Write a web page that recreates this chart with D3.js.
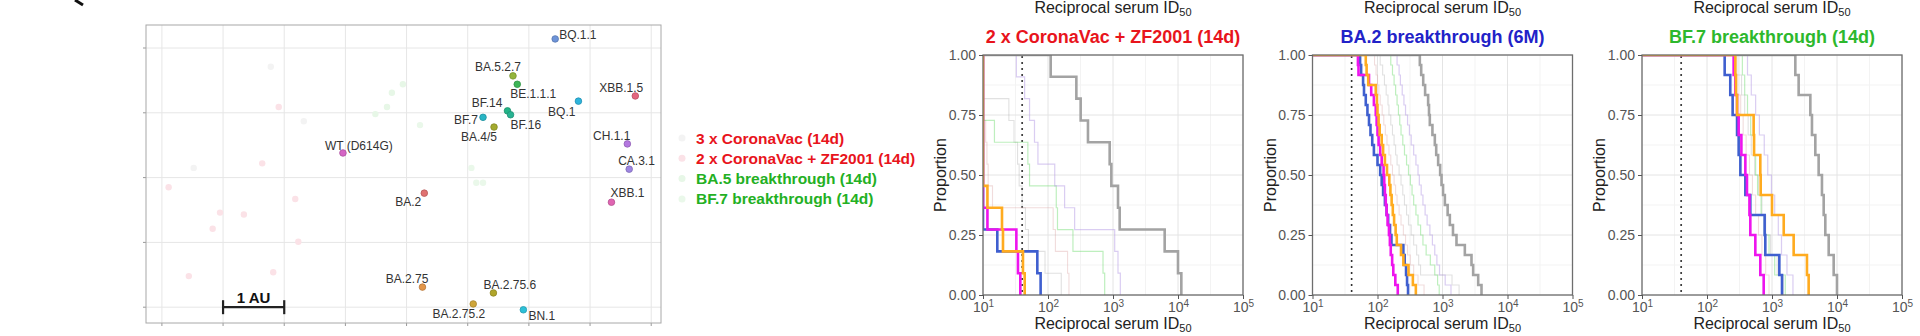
<!DOCTYPE html>
<html>
<head>
<meta charset="utf-8">
<script src="https://cdn.jsdelivr.net/npm/d3@7"></script>
<style>
body { margin: 0; background: #fff; }
text { font-family: Arial, 'Liberation Sans', sans-serif; }
</style>
</head>
<body>
<div id="chart"></div>
<script>
var variantNames = ['WT (D614G)', 'BA.2', 'BA.2.75', 'BA.2.75.2', 'BA.2.75.6', 'BN.1', 'BA.4/5', 'BF.7',
        'BF.14', 'BF.16', 'BA.5.2.7', 'BE.1.1.1', 'BQ.1', 'BQ.1.1', 'XBB.1', 'XBB.1.5', 'CH.1.1', 'CA.3.1'],
    variantX = [2.96, 4.29, 4.26, 5.09, 5.42, 5.91, 5.43, 5.25, 5.65, 5.70, 5.74, 5.81, 6.81, 6.43, 7.35, 7.74, 7.61, 7.64],
    variantY = [2.38, 1.76, 0.31, 0.05, 0.22, -0.04, 2.78, 2.93, 3.03, 2.97, 3.57, 3.44, 3.18, 4.14, 1.62, 3.26, 2.52, 2.13],
    variantColors = ['#d565c5', '#e07272', '#e3964a', '#cfa63a', '#b0a52a', '#2cc0d8', '#a3aa2e', '#28b5c4',
        '#22b487', '#27b392', '#93b53c', '#3db556', '#2db4dc', '#6d93d8', '#e065b2', '#e5667f', '#b477e0', '#9e86e2'];

var seraGroups = ['3 x CoronaVac (14d)', '2 x CoronaVac + ZF2001 (14d)', 'BA.5 breakthrough (14d)', 'BF.7 breakthrough (14d)'],
    seraGroup = [0, 0, 0, 1, 1, 1, 1, 1, 1, 1, 1, 1, 1, 2, 2, 2, 2, 3, 3, 3, 3],
    seraX = [1.78, 2.32, 0.52, 1.91, 1.64, 0.11, 2.18, 0.95, 1.34, 0.83, 2.23, 0.44, 1.82, 3.94, 3.76, 3.68, 3.49, 4.22, 5.06, 5.14, 5.25],
    seraY = [3.71, 2.87, 2.15, 3.09, 2.22, 1.85, 1.67, 1.46, 1.43, 1.21, 1.01, 0.48, 0.54, 3.44, 3.31, 3.09, 2.98, 2.81, 2.15, 1.92, 1.92],
    seraColors = ['#f3f3f3', '#fbe2e7', '#e7f7e7', '#eaf8ea'],
    legendColors = ['#e8141c', '#e8141c', '#23b023', '#23b023'];

var panelTitles = ['2 x CoronaVac + ZF2001 (14d)', 'BA.2 breakthrough (6M)', 'BF.7 breakthrough (14d)'],
    titleColors = ['#e8141c', '#2222c8', '#2db82d'],
    xTicks = [10, 100, 1000, 10000, 100000],
    yTicks = [0, 0.25, 0.5, 0.75, 1],
    detectionLimit = 40;

// reciprocal ID50 per serum
var p1Gray = [110, 273, 318, 412, 889, 943, 1194, 1267, 6237, 10000, 11250],
    p1Blue = [10, 10, 10, 10, 10, 10, 10, 10, 16.6, 68.5, 77],
    p1Magenta = [10, 10, 10, 10, 10, 10, 10, 11.7, 32.6, 34.5, 37.5],
    p1Orange = [10, 10, 10, 10, 10, 10, 11.7, 19.6, 20.3, 41.2, 43.8],
    p1Lavender = [32.6, 43.7, 52, 62, 70, 127, 180, 257, 1062, 1194, 1297],
    p1Green = [10, 10, 10, 15, 49, 52, 134, 140, 242, 702, 745],
    p1Pink = [10, 10, 10, 11, 11.5, 12, 14, 120, 130, 200, 210],
    p1Silver = [10, 10, 25, 30, 34, 36, 40, 45, 50, 90, 160];

var p2Gray = [448, 470, 505, 540, 601, 620, 638, 700, 762, 800, 857, 920, 966, 1020, 1087, 1200, 1297, 1450, 1641, 2206, 2793, 2963, 3539, 3981],
    p2Blue = [54, 56, 60, 62, 66, 70, 74, 78, 83, 88, 100, 110, 116, 122, 130, 138, 146, 156, 164, 250, 262, 275, 285, 295],
    p2Magenta = [50, 51, 74, 80, 88, 94, 97, 100, 104, 110, 116, 124, 127, 130, 134, 138, 143, 150, 155, 160, 168, 175, 188, 205],
    p2Orange = [66, 68, 72, 94, 98, 100, 104, 108, 116, 122, 130, 140, 152, 158, 165, 172, 180, 190, 198, 230, 250, 300, 350, 389],
    p2Lavender = [200, 215, 225, 240, 255, 270, 290, 310, 330, 360, 390, 420, 440, 470, 500, 540, 580, 640, 700, 760, 820, 900, 1100, 1350],
    p2Green = [160, 170, 180, 190, 200, 210, 220, 230, 245, 260, 280, 300, 320, 340, 360, 390, 420, 460, 500, 560, 650, 760, 840, 890],
    p2Pink = [90, 95, 100, 105, 110, 118, 125, 132, 140, 150, 160, 170, 180, 190, 200, 215, 230, 250, 270, 290, 320, 360, 420, 520],
    p2Silver = [110, 120, 128, 136, 145, 150, 160, 170, 180, 190, 200, 215, 230, 245, 260, 280, 300, 330, 360, 400, 430, 460, 1400, 1800];

var p3Gray = [2285, 2570, 3890, 4120, 4640, 5220, 5870, 6240, 6610, 7450, 8890, 10000],
    p3Blue = [187, 228, 248, 290, 307, 326, 389, 464, 771, 789, 1297, 1425],
    p3Magenta = [257, 273, 290, 307, 338, 389, 412, 450, 464, 554, 661, 745],
    p3Orange = [273, 279, 290, 522, 530, 661, 670, 1000, 1515, 2154, 3451, 3664],
    p3Lavender = [420, 480, 560, 640, 760, 860, 980, 1100, 1250, 1400, 1700, 2100],
    p3Green = [350, 380, 420, 470, 520, 560, 600, 680, 760, 900, 1100, 1600],
    p3Pink = [280, 300, 330, 360, 400, 450, 500, 560, 620, 700, 800, 900],
    p3Silver = [300, 340, 380, 430, 480, 540, 620, 700, 800, 950, 1200, 1500];

var width = 1920,
    height = 336,
    svg = d3.select('#chart').append('svg')
        .attr('width', width)
        .attr('height', height),
    seriesStyles = [
        {key: 'pink', color: '#d89a9a', width: 1.1, opacity: 0.35},
        {key: 'silver', color: '#9c9c9c', width: 1.1, opacity: 0.3},
        {key: 'green', color: '#6fdc6f', width: 1.2, opacity: 0.45},
        {key: 'lavender', color: '#b59ce6', width: 1.2, opacity: 0.5},
        {key: 'gray', color: '#a3a3a3', width: 2.6, opacity: 1},
        {key: 'blue', color: '#3f5fcf', width: 2.6, opacity: 1},
        {key: 'magenta', color: '#ee14ee', width: 2.6, opacity: 1},
        {key: 'orange', color: '#ffab1f', width: 2.6, opacity: 1}
    ],
    panels = [
        {pink: p1Pink, silver: p1Silver, green: p1Green, lavender: p1Lavender, gray: p1Gray, blue: p1Blue, magenta: p1Magenta, orange: p1Orange},
        {pink: p2Pink, silver: p2Silver, green: p2Green, lavender: p2Lavender, gray: p2Gray, blue: p2Blue, magenta: p2Magenta, orange: p2Orange},
        {pink: p3Pink, silver: p3Silver, green: p3Green, lavender: p3Lavender, gray: p3Gray, blue: p3Blue, magenta: p3Magenta, orange: p3Orange}
    ];

// partial panel letter at the very top
svg.append('path')
    .attr('d', 'M75,0 L83,5')
    .style('stroke', '#111')
    .style('stroke-width', 3);

drawMap();
panels.forEach(function(p, i) { drawPanel(p, i); });

function drawMap() {
    var x = d3.scaleLinear().domain([-0.26, 8.16]).range([146, 661]),
        y = d3.scaleLinear().domain([-0.244, 4.355]).range([323, 25]),
        g = svg.append('g'),
        gx = d3.range(0, 9),
        gy = d3.range(0, 5),
        labelPos = {
            'WT (D614G)': [-18, -3, 'start'], 'BA.2': [-3, 13, 'end'], 'BA.2.75': [6, -4, 'end'],
            'BA.2.75.2': [12, 14, 'end'], 'BA.2.75.6': [-10, -4, 'start'], 'BN.1': [5, 10, 'start'],
            'BA.4/5': [3, 14, 'end'], 'BF.7': [-5, 7, 'end'], 'BF.14': [-5, -4, 'end'],
            'BF.16': [0, 14, 'start'], 'BA.5.2.7': [8, -5, 'end'], 'BE.1.1.1': [-7, 14, 'start'],
            'BQ.1': [-3, 15, 'end'], 'BQ.1.1': [4, 0, 'start'], 'XBB.1': [-1, -5, 'start'],
            'XBB.1.5': [8, -4, 'end'], 'CH.1.1': [3, -4, 'end'], 'CA.3.1': [-11, -4, 'start']
        };

    g.selectAll('.vgrid').data(gx).enter().append('line')
        .attr('x1', function(d) { return x(d); })
        .attr('x2', function(d) { return x(d); })
        .attr('y1', y.range()[1])
        .attr('y2', y.range()[0])
        .style('stroke', '#e6e6e6');
    g.selectAll('.hgrid').data(gy).enter().append('line')
        .attr('x1', x.range()[0])
        .attr('x2', x.range()[1])
        .attr('y1', function(d) { return y(d); })
        .attr('y2', function(d) { return y(d); })
        .style('stroke', '#e6e6e6');
    g.selectAll('.xtick').data(gx).enter().append('line')
        .attr('x1', function(d) { return x(d); })
        .attr('x2', function(d) { return x(d); })
        .attr('y1', y.range()[0])
        .attr('y2', y.range()[0] + 3)
        .style('stroke', '#999');
    g.selectAll('.ytick').data(gy).enter().append('line')
        .attr('x1', x.range()[0] - 3)
        .attr('x2', x.range()[0])
        .attr('y1', function(d) { return y(d); })
        .attr('y2', function(d) { return y(d); })
        .style('stroke', '#999');
    g.append('rect')
        .attr('x', x.range()[0])
        .attr('y', y.range()[1])
        .attr('width', x.range()[1] - x.range()[0])
        .attr('height', y.range()[0] - y.range()[1])
        .style('fill', 'none')
        .style('stroke', '#a8a8a8');

    g.selectAll('.serum').data(seraX).enter().append('circle')
        .attr('cx', function(d) { return x(d); })
        .attr('cy', function(d, i) { return y(seraY[i]); })
        .attr('r', 3.2)
        .style('fill', function(d, i) { return seraColors[seraGroup[i]]; });

    g.selectAll('.variant').data(variantNames).enter().append('circle')
        .attr('cx', function(d, i) { return x(variantX[i]); })
        .attr('cy', function(d, i) { return y(variantY[i]); })
        .attr('r', 3.3)
        .style('fill', function(d, i) { return variantColors[i]; })
        .style('stroke', function(d, i) { return d3.color(variantColors[i]).darker(0.6); })
        .style('stroke-width', 0.8);
    g.selectAll('.vlabel').data(variantNames).enter().append('text')
        .attr('x', function(d, i) { return x(variantX[i]) + labelPos[d][0]; })
        .attr('y', function(d, i) { return y(variantY[i]) + labelPos[d][1]; })
        .attr('text-anchor', function(d) { return labelPos[d][2]; })
        .style('font-size', '12px')
        .style('fill', '#333')
        .text(function(d) { return d; });

    // 1 AU scale bar
    var bar = g.append('g').style('stroke', '#222').style('stroke-width', 2.2);
    bar.append('line').attr('x1', x(1)).attr('x2', x(2)).attr('y1', y(0)).attr('y2', y(0));
    bar.append('line').attr('x1', x(1)).attr('x2', x(1)).attr('y1', y(0) - 7).attr('y2', y(0) + 7);
    bar.append('line').attr('x1', x(2)).attr('x2', x(2)).attr('y1', y(0) - 7).attr('y2', y(0) + 7);
    g.append('text')
        .attr('x', (x(1) + x(2)) / 2)
        .attr('y', y(0) - 4)
        .attr('text-anchor', 'middle')
        .style('font-size', '15px')
        .style('font-weight', 'bold')
        .style('fill', '#111')
        .text('1 AU');

    var legend = svg.append('g').attr('transform', 'translate(682,138)');
    legend.selectAll('circle').data(seraGroups).enter().append('circle')
        .attr('cx', 0)
        .attr('cy', function(d, i) { return i * 20.3; })
        .attr('r', 3.5)
        .style('fill', function(d, i) { return seraColors[i]; });
    legend.selectAll('text').data(seraGroups).enter().append('text')
        .attr('x', 14)
        .attr('y', function(d, i) { return i * 20.3 + 5.5; })
        .style('font-size', '15.5px')
        .style('font-weight', 'bold')
        .style('fill', function(d, i) { return legendColors[i]; })
        .text(function(d) { return d; });
}

function survival(values) {
    var v = values.slice().sort(d3.ascending),
        n = v.length,
        pts = [{t: 10, p: 1}];

    v.forEach(function(t, i) {
        pts.push({t: Math.max(t, 10), p: (n - i - 1) / n});
    });
    return pts;
}

function drawPanel(panel, idx) {
    var left = 983 + idx * 329.5,
        top = 55,
        w = 260,
        h = 240,
        x = d3.scaleLog().domain([10, 1e5]).range([left, left + w]),
        y = d3.scaleLinear().domain([0, 1]).range([top + h, top]),
        g = svg.append('g'),
        clipId = 'clip' + idx,
        line = d3.line()
            .x(function(d) { return x(d.t); })
            .y(function(d) { return y(d.p); })
            .curve(d3.curveStepAfter),
        minorX = [Math.sqrt(10) * 10, Math.sqrt(10) * 100, Math.sqrt(10) * 1000, Math.sqrt(10) * 10000],
        minorY = [0.125, 0.375, 0.625, 0.875],
        center = left + w / 2;

    svg.append('clipPath').attr('id', clipId)
        .append('rect')
        .attr('x', left).attr('y', top).attr('width', w).attr('height', h);

    g.selectAll('.mx').data(minorX).enter().append('line')
        .attr('x1', function(d) { return x(d); }).attr('x2', function(d) { return x(d); })
        .attr('y1', top).attr('y2', top + h)
        .style('stroke', '#f3f3f3');
    g.selectAll('.my').data(minorY).enter().append('line')
        .attr('x1', left).attr('x2', left + w)
        .attr('y1', function(d) { return y(d); }).attr('y2', function(d) { return y(d); })
        .style('stroke', '#f3f3f3');
    g.selectAll('.gx').data(xTicks).enter().append('line')
        .attr('x1', function(d) { return x(d); }).attr('x2', function(d) { return x(d); })
        .attr('y1', top).attr('y2', top + h)
        .style('stroke', '#e4e4e4');
    g.selectAll('.gy').data(yTicks).enter().append('line')
        .attr('x1', left).attr('x2', left + w)
        .attr('y1', function(d) { return y(d); }).attr('y2', function(d) { return y(d); })
        .style('stroke', '#e4e4e4');

    g.append('line')
        .attr('x1', x(detectionLimit)).attr('x2', x(detectionLimit))
        .attr('y1', top + 2).attr('y2', top + h)
        .style('stroke', '#222')
        .style('stroke-width', 2)
        .style('stroke-linecap', 'round')
        .style('stroke-dasharray', '0,6');

    var curves = g.append('g').attr('clip-path', 'url(#' + clipId + ')');
    seriesStyles.forEach(function(s) {
        curves.append('path')
            .datum(survival(panel[s.key]))
            .attr('d', line)
            .style('fill', 'none')
            .style('stroke', s.color)
            .style('stroke-width', s.width)
            .style('stroke-opacity', s.opacity);
    });

    g.append('rect')
        .attr('x', left).attr('y', top).attr('width', w).attr('height', h)
        .style('fill', 'none')
        .style('stroke', '#6e6e6e')
        .style('stroke-width', 1.3);

    g.append('g')
        .attr('transform', 'translate(' + left + ',0)')
        .call(d3.axisLeft(y).tickValues(yTicks).tickFormat(d3.format('.2f')).tickSize(4))
        .call(function(a) {
            a.select('.domain').remove();
            a.selectAll('line').style('stroke', '#555');
            a.selectAll('text').style('font-size', '14px').style('fill', '#555')
                .style('font-family', 'Arial, "Liberation Sans", sans-serif');
        });
    g.append('g')
        .attr('transform', 'translate(0,' + (top + h) + ')')
        .call(d3.axisBottom(x).tickValues(xTicks).tickSize(4))
        .call(function(a) {
            a.select('.domain').remove();
            a.selectAll('line').style('stroke', '#555');
            a.selectAll('text')
                .style('font-size', '14px').style('fill', '#555')
                .style('font-family', 'Arial, "Liberation Sans", sans-serif')
                .each(function(d) {
                    var t = d3.select(this).text('');
                    t.append('tspan').text('10');
                    t.append('tspan').attr('dy', '-0.45em').style('font-size', '10px')
                        .text(Math.round(Math.log10(d)));
                });
        });

    g.append('text')
        .attr('x', center).attr('y', 43)
        .attr('text-anchor', 'middle')
        .style('font-size', '18px').style('font-weight', 'bold')
        .style('fill', titleColors[idx])
        .text(panelTitles[idx]);

    [13, 329].forEach(function(yy) {
        var t = g.append('text')
            .attr('x', center).attr('y', yy)
            .attr('text-anchor', 'middle')
            .style('font-size', '16px').style('fill', '#222');
        t.append('tspan').text('Reciprocal serum ID');
        t.append('tspan').attr('dy', 3).style('font-size', '11px').text('50');
    });

    g.append('text')
        .attr('transform', 'translate(' + (left - 37) + ',' + (top + h / 2) + ') rotate(-90)')
        .attr('text-anchor', 'middle')
        .style('font-size', '16px').style('fill', '#222')
        .text('Proportion');
}
</script>
</body>
</html>
